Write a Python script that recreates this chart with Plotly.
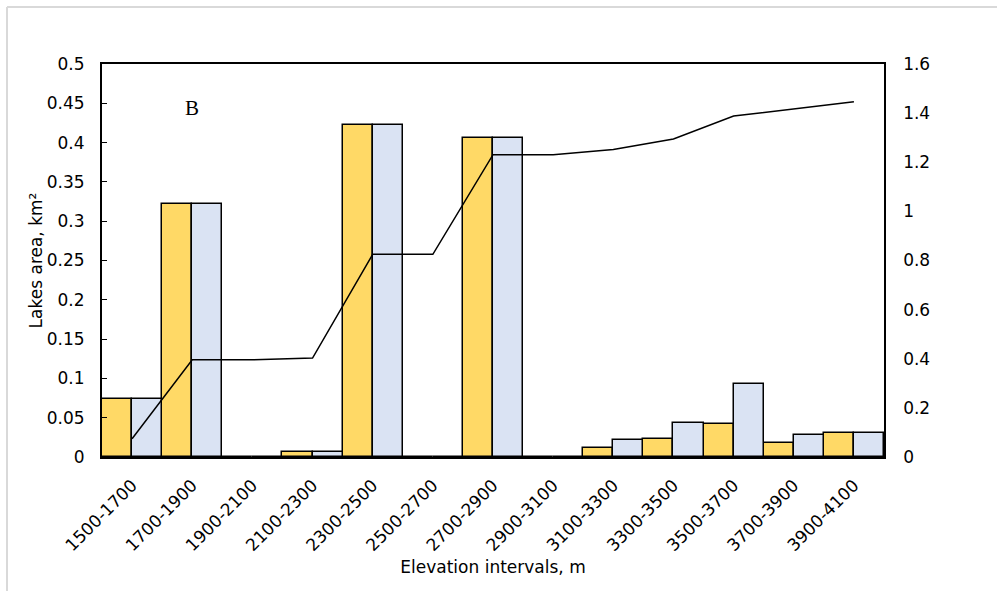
import plotly.graph_objects as go

categories = ["1500-1700", "1700-1900", "1900-2100", "2100-2300", "2300-2500",
              "2500-2700", "2700-2900", "2900-3100", "3100-3300", "3300-3500",
              "3500-3700", "3700-3900", "3900-4100"]
area_a = [0.074, 0.322, 0.0, 0.007, 0.422, 0.0, 0.406, 0.0, 0.012, 0.023, 0.042, 0.018, 0.030]
area_b = [0.074, 0.322, 0.0, 0.007, 0.422, 0.0, 0.406, 0.0, 0.021, 0.043, 0.093, 0.028, 0.030]
cumulative = [0.074, 0.396, 0.396, 0.403, 0.825, 0.825, 1.231, 1.231, 1.252, 1.295, 1.388, 1.416, 1.446]

font_main = "Verdana, DejaVu Sans, sans-serif"
fs = 17

fig = go.Figure()
fig.add_trace(go.Bar(x=categories, y=area_a, marker=dict(color="#FFD966", line=dict(color="black", width=1.5)),
                     showlegend=False))
fig.add_trace(go.Bar(x=categories, y=area_b, marker=dict(color="#DAE3F3", line=dict(color="black", width=1.5)),
                     showlegend=False))
fig.add_trace(go.Scatter(x=categories, y=cumulative, mode="lines", yaxis="y2",
                         line=dict(color="black", width=1.5), showlegend=False))

fig.update_layout(
    width=997, height=591,
    margin=dict(l=102, r=113, t=64, b=134),
    paper_bgcolor="white", plot_bgcolor="white",
    barmode="group", bargap=0, bargroupgap=0,
    font=dict(family=font_main, size=fs, color="black"),
    xaxis=dict(showline=True, linecolor="black", linewidth=1.5, mirror=True,
               tickangle=-45, ticks="", showgrid=False, ticklabelstandoff=10,
               title=dict(text="Elevation intervals, m", font=dict(size=fs), standoff=7),
               tickfont=dict(size=fs)),
    yaxis=dict(range=[0, 0.5], dtick=0.05, showline=True, linecolor="black", linewidth=2,
               ticks="inside", ticklen=5, tickcolor="black", showgrid=False, zeroline=False,
               ticklabelstandoff=12,
               title=dict(text="Lakes area, km²", font=dict(size=fs), standoff=0),
               tickfont=dict(size=fs)),
    yaxis2=dict(range=[0, 1.6], dtick=0.2, overlaying="y", side="right", showline=True,
                linecolor="black", linewidth=1.5, showgrid=False, zeroline=False, ticks="",
                ticklabelstandoff=14, tickfont=dict(size=fs)),
    annotations=[dict(text="B", x=(182.5 - 102) / 782, y=(457 - 94) / 393, xref="paper", yref="paper",
                      showarrow=False, font=dict(family="Liberation Serif, Times New Roman, serif", size=21))],
    shapes=[
        dict(type="line", xref="paper", yref="paper", x0=-0.1215, x1=1.2, y0=1.145, y1=1.145,
             line=dict(color="#D9D9D9", width=2)),
        dict(type="line", xref="paper", yref="paper", x0=-0.1215, x1=-0.1215, y0=-0.4, y1=1.145,
             line=dict(color="#D9D9D9", width=2)),
    ],
)

fig.write_html("out.html")
